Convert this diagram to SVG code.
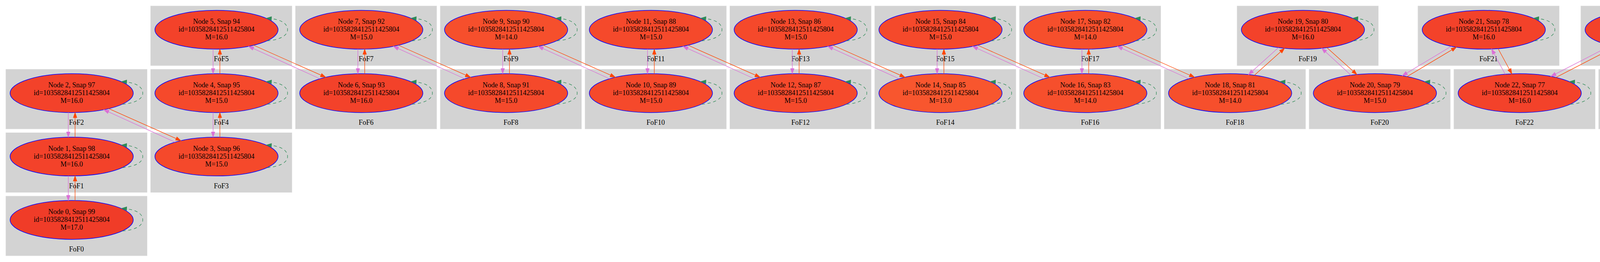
<svg xmlns="http://www.w3.org/2000/svg" xmlns:xlink="http://www.w3.org/1999/xlink" width="5952" height="672" viewBox="0 0 5952 672">
<style>
.cl rect{fill:#d3d3d3;stroke:#dadada;stroke-width:1}
text{font-family:"Liberation Serif","Times New Roman",serif;font-size:18px;text-anchor:middle;fill:#000}
.nd ellipse{stroke:#0000ff;stroke-width:1.5}
.c17{fill:#F03C28}.c16{fill:#F3422A}.c15{fill:#F5492B}.c14{fill:#F64F2C}.c13{fill:#F8562E}.c11{fill:#F96A31}.c10{fill:#FA7535}.c9{fill:#FB8139}
.oc{stroke:#da70d6;stroke-width:1.3;fill:none;marker-end:url(#aoc)}
.or{stroke:#ff4500;stroke-width:1.3;fill:none;marker-end:url(#aor)}
</style>
<defs>
<marker id="aoc" markerUnits="userSpaceOnUse" markerWidth="14" markerHeight="10" viewBox="0 0 14 10" refX="13.3" refY="5" orient="auto" style="overflow:visible"><path d="M0,0.35 L13.3,5 L0,9.65 z" fill="#da70d6" stroke="#da70d6" stroke-width="1"/></marker>
<marker id="aor" markerUnits="userSpaceOnUse" markerWidth="14" markerHeight="10" viewBox="0 0 14 10" refX="13.3" refY="5" orient="auto" style="overflow:visible"><path d="M0,0.35 L13.3,5 L0,9.65 z" fill="#ff4500" stroke="#ff4500" stroke-width="1"/></marker>
<marker id="alp" markerUnits="userSpaceOnUse" markerWidth="14" markerHeight="10" viewBox="0 0 14 10" refX="13.3" refY="5" orient="auto" style="overflow:visible"><path d="M0,0.35 L13.3,5 L0,9.65 z" fill="#2e8b57" stroke="#2e8b57" stroke-width="1"/></marker>
<path id="loop" d="M130,28.5 C160,26 182,16 182,0 C182,-16 165,-28 127.5,-29.5" fill="none" stroke="#2e8b57" stroke-width="1.3" stroke-dasharray="8,7" marker-end="url(#alp)"/>
</defs>
<rect x="0" y="0" width="5952" height="672" fill="#ffffff"/>
<g id="clusters">
<g id="clust_FoF0" class="cl"><rect x="15" y="503.1" width="361.5" height="152.8"/><text x="195.8" y="645.1">FoF0</text></g>
<g id="clust_FoF1" class="cl"><rect x="15" y="340.5" width="361.5" height="152.8"/><text x="195.8" y="482.5">FoF1</text></g>
<g id="clust_FoF2" class="cl"><rect x="15" y="177.9" width="361.5" height="152.8"/><text x="195.8" y="319.9">FoF2</text></g>
<g id="clust_FoF3" class="cl"><rect x="385.7" y="340.5" width="361.5" height="152.8"/><text x="566.5" y="482.5">FoF3</text></g>
<g id="clust_FoF4" class="cl"><rect x="385.7" y="177.9" width="361.5" height="152.8"/><text x="566.5" y="319.9">FoF4</text></g>
<g id="clust_FoF5" class="cl"><rect x="385.7" y="15.3" width="361.5" height="152.8"/><text x="566.5" y="157.3">FoF5</text></g>
<g id="clust_FoF6" class="cl"><rect x="756.4" y="177.9" width="361.5" height="152.8"/><text x="937.2" y="319.9">FoF6</text></g>
<g id="clust_FoF7" class="cl"><rect x="756.4" y="15.3" width="361.5" height="152.8"/><text x="937.2" y="157.3">FoF7</text></g>
<g id="clust_FoF8" class="cl"><rect x="1127.1" y="177.9" width="361.5" height="152.8"/><text x="1307.9" y="319.9">FoF8</text></g>
<g id="clust_FoF9" class="cl"><rect x="1127.1" y="15.3" width="361.5" height="152.8"/><text x="1307.9" y="157.3">FoF9</text></g>
<g id="clust_FoF10" class="cl"><rect x="1497.8" y="177.9" width="361.5" height="152.8"/><text x="1678.6" y="319.9">FoF10</text></g>
<g id="clust_FoF11" class="cl"><rect x="1497.8" y="15.3" width="361.5" height="152.8"/><text x="1678.6" y="157.3">FoF11</text></g>
<g id="clust_FoF12" class="cl"><rect x="1868.5" y="177.9" width="361.5" height="152.8"/><text x="2049.3" y="319.9">FoF12</text></g>
<g id="clust_FoF13" class="cl"><rect x="1868.5" y="15.3" width="361.5" height="152.8"/><text x="2049.3" y="157.3">FoF13</text></g>
<g id="clust_FoF14" class="cl"><rect x="2239.2" y="177.9" width="361.5" height="152.8"/><text x="2420" y="319.9">FoF14</text></g>
<g id="clust_FoF15" class="cl"><rect x="2239.2" y="15.3" width="361.5" height="152.8"/><text x="2420" y="157.3">FoF15</text></g>
<g id="clust_FoF16" class="cl"><rect x="2609.9" y="177.9" width="361.5" height="152.8"/><text x="2790.7" y="319.9">FoF16</text></g>
<g id="clust_FoF17" class="cl"><rect x="2609.9" y="15.3" width="361.5" height="152.8"/><text x="2790.7" y="157.3">FoF17</text></g>
<g id="clust_FoF18" class="cl"><rect x="2980.6" y="177.9" width="361.5" height="152.8"/><text x="3161.4" y="319.9">FoF18</text></g>
<g id="clust_FoF19" class="cl"><rect x="3167" y="15.3" width="361.5" height="152.8"/><text x="3347.8" y="157.3">FoF19</text></g>
<g id="clust_FoF20" class="cl"><rect x="3351.3" y="177.9" width="361.5" height="152.8"/><text x="3532.1" y="319.9">FoF20</text></g>
<g id="clust_FoF21" class="cl"><rect x="3630" y="15.3" width="361.5" height="152.8"/><text x="3810.8" y="157.3">FoF21</text></g>
<g id="clust_FoF22" class="cl"><rect x="3722" y="177.9" width="361.5" height="152.8"/><text x="3902.8" y="319.9">FoF22</text></g>
<g id="clust_FoF23" class="cl"><rect x="4047" y="15.3" width="361.5" height="152.8"/><text x="4227.8" y="157.3">FoF23</text></g>
<g id="clust_FoF24" class="cl"><rect x="4092.7" y="177.9" width="361.5" height="152.8"/><text x="4273.5" y="319.9">FoF24</text></g>
<g id="clust_FoF25" class="cl"><rect x="4441.1" y="15.3" width="361.5" height="152.8"/><text x="4621.9" y="157.3">FoF25</text></g>
<g id="clust_FoF26" class="cl"><rect x="4463.4" y="177.9" width="361.5" height="152.8"/><text x="4644.2" y="319.9">FoF26</text></g>
<g id="clust_FoF27" class="cl"><rect x="4823.7" y="15.3" width="361.5" height="152.8"/><text x="5004.5" y="157.3">FoF27</text></g>
<g id="clust_FoF28" class="cl"><rect x="4834.1" y="177.9" width="361.5" height="152.8"/><text x="5014.9" y="319.9">FoF28</text></g>
<g id="clust_FoF29" class="cl"><rect x="5199.4" y="15.3" width="361.5" height="152.8"/><text x="5380.2" y="157.3">FoF29</text></g>
<g id="clust_FoF30" class="cl"><rect x="5204.8" y="177.9" width="361.5" height="152.8"/><text x="5385.6" y="319.9">FoF30</text></g>
<g id="clust_FoF31" class="cl"><rect x="5573" y="15.3" width="361.5" height="152.8"/><text x="5753.8" y="157.3">FoF31</text></g>
<g id="clust_FoF32" class="cl"><rect x="5575.5" y="177.9" width="361.5" height="152.8"/><text x="5756.3" y="319.9">FoF32</text></g>
</g>
<g id="nodes">
<g id="node0" class="nd" transform="translate(183.5,564.1)"><ellipse rx="157.7" ry="49.8" class="c17"/><text y="-15">Node 0, Snap 99</text><text y="5">id=1035828412511425804</text><text y="25">M=17.0</text></g>
<g id="node1" class="nd" transform="translate(183.5,401.5)"><ellipse rx="157.7" ry="49.8" class="c16"/><text y="-15">Node 1, Snap 98</text><text y="5">id=1035828412511425804</text><text y="25">M=16.0</text></g>
<g id="node2" class="nd" transform="translate(183.5,238.9)"><ellipse rx="157.7" ry="49.8" class="c16"/><text y="-15">Node 2, Snap 97</text><text y="5">id=1035828412511425804</text><text y="25">M=16.0</text></g>
<g id="node3" class="nd" transform="translate(554.2,401.5)"><ellipse rx="157.7" ry="49.8" class="c15"/><text y="-15">Node 3, Snap 96</text><text y="5">id=1035828412511425804</text><text y="25">M=15.0</text></g>
<g id="node4" class="nd" transform="translate(554.2,238.9)"><ellipse rx="157.7" ry="49.8" class="c15"/><text y="-15">Node 4, Snap 95</text><text y="5">id=1035828412511425804</text><text y="25">M=15.0</text></g>
<g id="node5" class="nd" transform="translate(554.2,76.3)"><ellipse rx="157.7" ry="49.8" class="c16"/><text y="-15">Node 5, Snap 94</text><text y="5">id=1035828412511425804</text><text y="25">M=16.0</text></g>
<g id="node6" class="nd" transform="translate(924.9,238.9)"><ellipse rx="157.7" ry="49.8" class="c16"/><text y="-15">Node 6, Snap 93</text><text y="5">id=1035828412511425804</text><text y="25">M=16.0</text></g>
<g id="node7" class="nd" transform="translate(924.9,76.3)"><ellipse rx="157.7" ry="49.8" class="c15"/><text y="-15">Node 7, Snap 92</text><text y="5">id=1035828412511425804</text><text y="25">M=15.0</text></g>
<g id="node8" class="nd" transform="translate(1295.6,238.9)"><ellipse rx="157.7" ry="49.8" class="c15"/><text y="-15">Node 8, Snap 91</text><text y="5">id=1035828412511425804</text><text y="25">M=15.0</text></g>
<g id="node9" class="nd" transform="translate(1295.6,76.3)"><ellipse rx="157.7" ry="49.8" class="c14"/><text y="-15">Node 9, Snap 90</text><text y="5">id=1035828412511425804</text><text y="25">M=14.0</text></g>
<g id="node10" class="nd" transform="translate(1666.3,238.9)"><ellipse rx="157.7" ry="49.8" class="c15"/><text y="-15">Node 10, Snap 89</text><text y="5">id=1035828412511425804</text><text y="25">M=15.0</text></g>
<g id="node11" class="nd" transform="translate(1666.3,76.3)"><ellipse rx="157.7" ry="49.8" class="c15"/><text y="-15">Node 11, Snap 88</text><text y="5">id=1035828412511425804</text><text y="25">M=15.0</text></g>
<g id="node12" class="nd" transform="translate(2037,238.9)"><ellipse rx="157.7" ry="49.8" class="c15"/><text y="-15">Node 12, Snap 87</text><text y="5">id=1035828412511425804</text><text y="25">M=15.0</text></g>
<g id="node13" class="nd" transform="translate(2037,76.3)"><ellipse rx="157.7" ry="49.8" class="c15"/><text y="-15">Node 13, Snap 86</text><text y="5">id=1035828412511425804</text><text y="25">M=15.0</text></g>
<g id="node14" class="nd" transform="translate(2407.7,238.9)"><ellipse rx="157.7" ry="49.8" class="c13"/><text y="-15">Node 14, Snap 85</text><text y="5">id=1035828412511425804</text><text y="25">M=13.0</text></g>
<g id="node15" class="nd" transform="translate(2407.7,76.3)"><ellipse rx="157.7" ry="49.8" class="c15"/><text y="-15">Node 15, Snap 84</text><text y="5">id=1035828412511425804</text><text y="25">M=15.0</text></g>
<g id="node16" class="nd" transform="translate(2778.4,238.9)"><ellipse rx="157.7" ry="49.8" class="c14"/><text y="-15">Node 16, Snap 83</text><text y="5">id=1035828412511425804</text><text y="25">M=14.0</text></g>
<g id="node17" class="nd" transform="translate(2778.4,76.3)"><ellipse rx="157.7" ry="49.8" class="c14"/><text y="-15">Node 17, Snap 82</text><text y="5">id=1035828412511425804</text><text y="25">M=14.0</text></g>
<g id="node18" class="nd" transform="translate(3149.1,238.9)"><ellipse rx="157.7" ry="49.8" class="c14"/><text y="-15">Node 18, Snap 81</text><text y="5">id=1035828412511425804</text><text y="25">M=14.0</text></g>
<g id="node19" class="nd" transform="translate(3335.5,76.3)"><ellipse rx="157.7" ry="49.8" class="c16"/><text y="-15">Node 19, Snap 80</text><text y="5">id=1035828412511425804</text><text y="25">M=16.0</text></g>
<g id="node20" class="nd" transform="translate(3519.8,238.9)"><ellipse rx="157.7" ry="49.8" class="c15"/><text y="-15">Node 20, Snap 79</text><text y="5">id=1035828412511425804</text><text y="25">M=15.0</text></g>
<g id="node21" class="nd" transform="translate(3798.5,76.3)"><ellipse rx="157.7" ry="49.8" class="c16"/><text y="-15">Node 21, Snap 78</text><text y="5">id=1035828412511425804</text><text y="25">M=16.0</text></g>
<g id="node22" class="nd" transform="translate(3890.5,238.9)"><ellipse rx="157.7" ry="49.8" class="c16"/><text y="-15">Node 22, Snap 77</text><text y="5">id=1035828412511425804</text><text y="25">M=16.0</text></g>
<g id="node23" class="nd" transform="translate(4215.5,76.3)"><ellipse rx="157.7" ry="49.8" class="c16"/><text y="-15">Node 23, Snap 76</text><text y="5">id=1035828412511425804</text><text y="25">M=16.0</text></g>
<g id="node24" class="nd" transform="translate(4261.2,238.9)"><ellipse rx="157.7" ry="49.8" class="c15"/><text y="-15">Node 24, Snap 75</text><text y="5">id=1035828412511425804</text><text y="25">M=15.0</text></g>
<g id="node25" class="nd" transform="translate(4609.6,76.3)"><ellipse rx="157.7" ry="49.8" class="c15"/><text y="-15">Node 25, Snap 74</text><text y="5">id=1035828412511425804</text><text y="25">M=15.0</text></g>
<g id="node26" class="nd" transform="translate(4631.9,238.9)"><ellipse rx="157.7" ry="49.8" class="c16"/><text y="-15">Node 26, Snap 73</text><text y="5">id=1035828412511425804</text><text y="25">M=16.0</text></g>
<g id="node27" class="nd" transform="translate(4992.2,76.3)"><ellipse rx="157.7" ry="49.8" class="c13"/><text y="-15">Node 27, Snap 72</text><text y="5">id=1035828412511425804</text><text y="25">M=13.0</text></g>
<g id="node28" class="nd" transform="translate(5002.6,238.9)"><ellipse rx="157.7" ry="49.8" class="c13"/><text y="-15">Node 28, Snap 71</text><text y="5">id=1035828412511425804</text><text y="25">M=13.0</text></g>
<g id="node29" class="nd" transform="translate(5367.9,76.3)"><ellipse rx="157.7" ry="49.8" class="c9"/><text y="-15">Node 29, Snap 70</text><text y="5">id=1035828412511425804</text><text y="25">M=9.0</text></g>
<g id="node30" class="nd" transform="translate(5373.3,238.9)"><ellipse rx="157.7" ry="49.8" class="c10"/><text y="-15">Node 30, Snap 69</text><text y="5">id=1035828412511425804</text><text y="25">M=10.0</text></g>
<g id="node31" class="nd" transform="translate(5741.5,76.3)"><ellipse rx="157.7" ry="49.8" class="c11"/><text y="-15">Node 31, Snap 68</text><text y="5">id=1035828412511425804</text><text y="25">M=11.0</text></g>
<g id="node32" class="nd" transform="translate(5744,238.9)"><ellipse rx="157.7" ry="49.8" class="c11"/><text y="-15">Node 32, Snap 67</text><text y="5">id=1035828412511425804</text><text y="25">M=11.0</text></g>
</g>
<g id="connectors">
<g id="selfloops">
<use xlink:href="#loop" href="#loop" x="183.5" y="564.1"/>
<use xlink:href="#loop" href="#loop" x="183.5" y="401.5"/>
<use xlink:href="#loop" href="#loop" x="183.5" y="238.9"/>
<use xlink:href="#loop" href="#loop" x="554.2" y="401.5"/>
<use xlink:href="#loop" href="#loop" x="554.2" y="238.9"/>
<use xlink:href="#loop" href="#loop" x="554.2" y="76.3"/>
<use xlink:href="#loop" href="#loop" x="924.9" y="238.9"/>
<use xlink:href="#loop" href="#loop" x="924.9" y="76.3"/>
<use xlink:href="#loop" href="#loop" x="1295.6" y="238.9"/>
<use xlink:href="#loop" href="#loop" x="1295.6" y="76.3"/>
<use xlink:href="#loop" href="#loop" x="1666.3" y="238.9"/>
<use xlink:href="#loop" href="#loop" x="1666.3" y="76.3"/>
<use xlink:href="#loop" href="#loop" x="2037" y="238.9"/>
<use xlink:href="#loop" href="#loop" x="2037" y="76.3"/>
<use xlink:href="#loop" href="#loop" x="2407.7" y="238.9"/>
<use xlink:href="#loop" href="#loop" x="2407.7" y="76.3"/>
<use xlink:href="#loop" href="#loop" x="2778.4" y="238.9"/>
<use xlink:href="#loop" href="#loop" x="2778.4" y="76.3"/>
<use xlink:href="#loop" href="#loop" x="3149.1" y="238.9"/>
<use xlink:href="#loop" href="#loop" x="3335.5" y="76.3"/>
<use xlink:href="#loop" href="#loop" x="3519.8" y="238.9"/>
<use xlink:href="#loop" href="#loop" x="3798.5" y="76.3"/>
<use xlink:href="#loop" href="#loop" x="3890.5" y="238.9"/>
<use xlink:href="#loop" href="#loop" x="4215.5" y="76.3"/>
<use xlink:href="#loop" href="#loop" x="4261.2" y="238.9"/>
<use xlink:href="#loop" href="#loop" x="4609.6" y="76.3"/>
<use xlink:href="#loop" href="#loop" x="4631.9" y="238.9"/>
<use xlink:href="#loop" href="#loop" x="4992.2" y="76.3"/>
<use xlink:href="#loop" href="#loop" x="5002.6" y="238.9"/>
<use xlink:href="#loop" href="#loop" x="5367.9" y="76.3"/>
<use xlink:href="#loop" href="#loop" x="5373.3" y="238.9"/>
<use xlink:href="#loop" href="#loop" x="5741.5" y="76.3"/>
<use xlink:href="#loop" href="#loop" x="5744" y="238.9"/>
</g>
<g id="edges_vertical">
<path class="oc" d="M174.8,451.2 L174.8,514.4"/><path class="or" d="M192.2,514.4 L192.2,451.2"/>
<path class="oc" d="M174.8,288.6 L174.8,351.8"/><path class="or" d="M192.2,351.8 L192.2,288.6"/>
<path class="oc" d="M545.5,288.6 L545.5,351.8"/><path class="or" d="M562.9,351.8 L562.9,288.6"/>
<path class="oc" d="M545.5,126 L545.5,189.2"/><path class="or" d="M562.9,189.2 L562.9,126"/>
<path class="oc" d="M916.2,126 L916.2,189.2"/><path class="or" d="M933.6,189.2 L933.6,126"/>
<path class="oc" d="M1286.9,126 L1286.9,189.2"/><path class="or" d="M1304.3,189.2 L1304.3,126"/>
<path class="oc" d="M1657.6,126 L1657.6,189.2"/><path class="or" d="M1675,189.2 L1675,126"/>
<path class="oc" d="M2028.3,126 L2028.3,189.2"/><path class="or" d="M2045.7,189.2 L2045.7,126"/>
<path class="oc" d="M2399,126 L2399,189.2"/><path class="or" d="M2416.4,189.2 L2416.4,126"/>
<path class="oc" d="M2769.7,126 L2769.7,189.2"/><path class="or" d="M2787.1,189.2 L2787.1,126"/>
</g>
<g id="edges_diagonal">
<path class="or" d="M278.5,278.6 L463.2,360.8"/><path class="oc" d="M448.2,364.6 L265.5,281.4"/>
<path class="or" d="M649.2,116 L833.9,198.2"/><path class="oc" d="M818.9,202 L636.2,118.8"/>
<path class="or" d="M1019.9,116 L1204.6,198.2"/><path class="oc" d="M1189.6,202 L1006.9,118.8"/>
<path class="or" d="M1390.6,116 L1575.3,198.2"/><path class="oc" d="M1560.3,202 L1377.6,118.8"/>
<path class="or" d="M1761.3,116 L1946,198.2"/><path class="oc" d="M1931,202 L1748.3,118.8"/>
<path class="or" d="M2132,116 L2316.7,198.2"/><path class="oc" d="M2301.7,202 L2119,118.8"/>
<path class="or" d="M2502.7,116 L2687.4,198.2"/><path class="oc" d="M2672.4,202 L2489.7,118.8"/>
<path class="or" d="M2873.4,116 L3058.1,198.2"/><path class="oc" d="M3043.1,202 L2860.4,118.8"/>
<path class="oc" d="M3272.9,122 L3196.1,191.4"/><path class="or" d="M3211.3,193.1 L3288.5,123.8"/>
<path class="oc" d="M3458.6,193 L3383.6,123.7"/><path class="or" d="M3397,122.2 L3473.8,191.3"/>
<path class="oc" d="M3715.5,118.6 L3589.8,194.3"/><path class="or" d="M3602.2,196.4 L3728.5,120.9"/>
<path class="oc" d="M3853.3,190.5 L3818.4,125.7"/><path class="or" d="M3835.1,124.7 L3870.4,189.5"/>
<path class="oc" d="M4123.5,116.7 L3970.2,195.9"/><path class="or" d="M3983.2,198.6 L4136.5,119.4"/>
<path class="oc" d="M4237.9,189.6 L4222.3,126"/><path class="or" d="M4237.9,125.6 L4255,189.2"/>
<path class="oc" d="M4512.3,115.5 L4344.4,196.6"/><path class="or" d="M4354.8,198.8 L4525.3,118.4"/>
<path class="oc" d="M4616.3,189.4 L4608.5,126.1"/><path class="or" d="M4625.1,125.9 L4633.4,189.1"/>
<path class="oc" d="M4899.5,116.6 L4722.8,198.2"/><path class="or" d="M4738.4,202.2 L4917.7,120.2"/>
<path class="oc" d="M4990.5,189.3 L4986.9,126.1"/><path class="or" d="M5003.5,126 L5007.1,189.1"/>
<path class="oc" d="M5279.1,117.5 L5101.2,200"/><path class="or" d="M5112.6,203.2 L5295.9,120.6"/>
<path class="oc" d="M5363.1,189.2 L5360.7,126.1"/><path class="or" d="M5378.4,126 L5379.9,189.1"/>
<path class="oc" d="M5653.2,117.6 L5473.4,200.4"/><path class="or" d="M5486.8,204.3 L5670,120.7"/>
<path class="oc" d="M5734.7,189.2 L5732.4,126"/><path class="or" d="M5750.6,126 L5751.5,189.2"/>
</g>
</g>
</svg>
